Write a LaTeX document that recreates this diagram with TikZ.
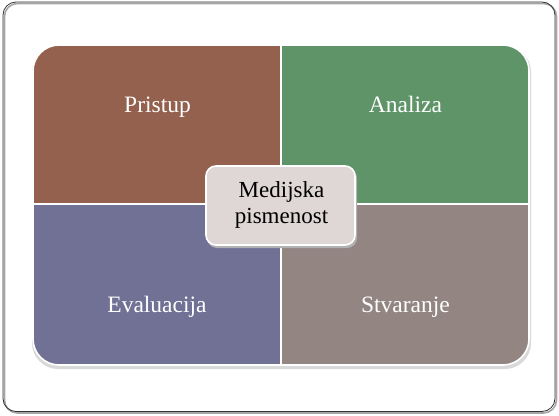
\documentclass[tikz,border=0pt]{standalone}
\usepackage{fontspec}
\setmainfont{Liberation Serif}
\usetikzlibrary{calc}
\definecolor{cbrown}{HTML}{94614F}
\definecolor{cgreen}{HTML}{5E9468}
\definecolor{cblue}{HTML}{717095}
\definecolor{cmauve}{HTML}{928582}
\definecolor{ccenter}{HTML}{DFD6D6}
\tikzset{
  lab/.style={text=white, anchor=base, inner sep=0pt, font=\fontsize{23.5}{26}\selectfont},
  centerbox/.style={draw=white, line width=1.6pt, fill=ccenter, rounded corners=10pt,
    minimum width=149pt, minimum height=79pt},
  ctext/.style={anchor=base, inner sep=0pt, text=black, font=\fontsize{23}{26}\selectfont}
}
\begin{document}
\begin{tikzpicture}[x=1pt,y=-1pt]
\useasboundingbox (0,0) rectangle (559,415);
% slide frame
\draw[gray!70, line width=1.6pt, rounded corners=13pt] (4.5,3.5) rectangle (556.5,413);
\draw[black!80, line width=0.8pt, rounded corners=13pt] (3,2) rectangle (555,411.5);
% shadow of matrix
\fill[black!35, rounded corners=26pt] (33,47) rectangle (530,367.5);
\fill[black!15, rounded corners=26pt] (32,46) rectangle (531,369);
% matrix
\begin{scope}
\clip[rounded corners=26pt] (33,45) rectangle (529,365);
\fill[cbrown] (33,45) rectangle (281,204);
\fill[cgreen] (281,45) rectangle (529,204);
\fill[cblue] (33,204) rectangle (281,365);
\fill[cmauve] (281,204) rectangle (529,365);
\end{scope}
\draw[white, line width=2.2pt] (281,45) -- (281,365);
\draw[white, line width=2.2pt] (33,204) -- (529,204);
\draw[white, line width=1.6pt, rounded corners=26pt] (33,45) rectangle (529,365);
% labels
\node[lab] (p) at (157.5,112) {Pristup};
\node[lab] (a) at (405.5,112) {Analiza};
\node[lab] (e) at (157,312) {Evaluacija};
\node[lab] (s) at (405.5,312) {Stvaranje};
% center
\fill[black!30, rounded corners=10pt] (207,168) rectangle (357,248);
\node[centerbox] (c) at (280.5,205.5) {};
\node[ctext] (c1) at (281.5,197) {Medijska};
\node[ctext] (c2) at (281.5,223) {pismenost};
\end{tikzpicture}
\end{document}
